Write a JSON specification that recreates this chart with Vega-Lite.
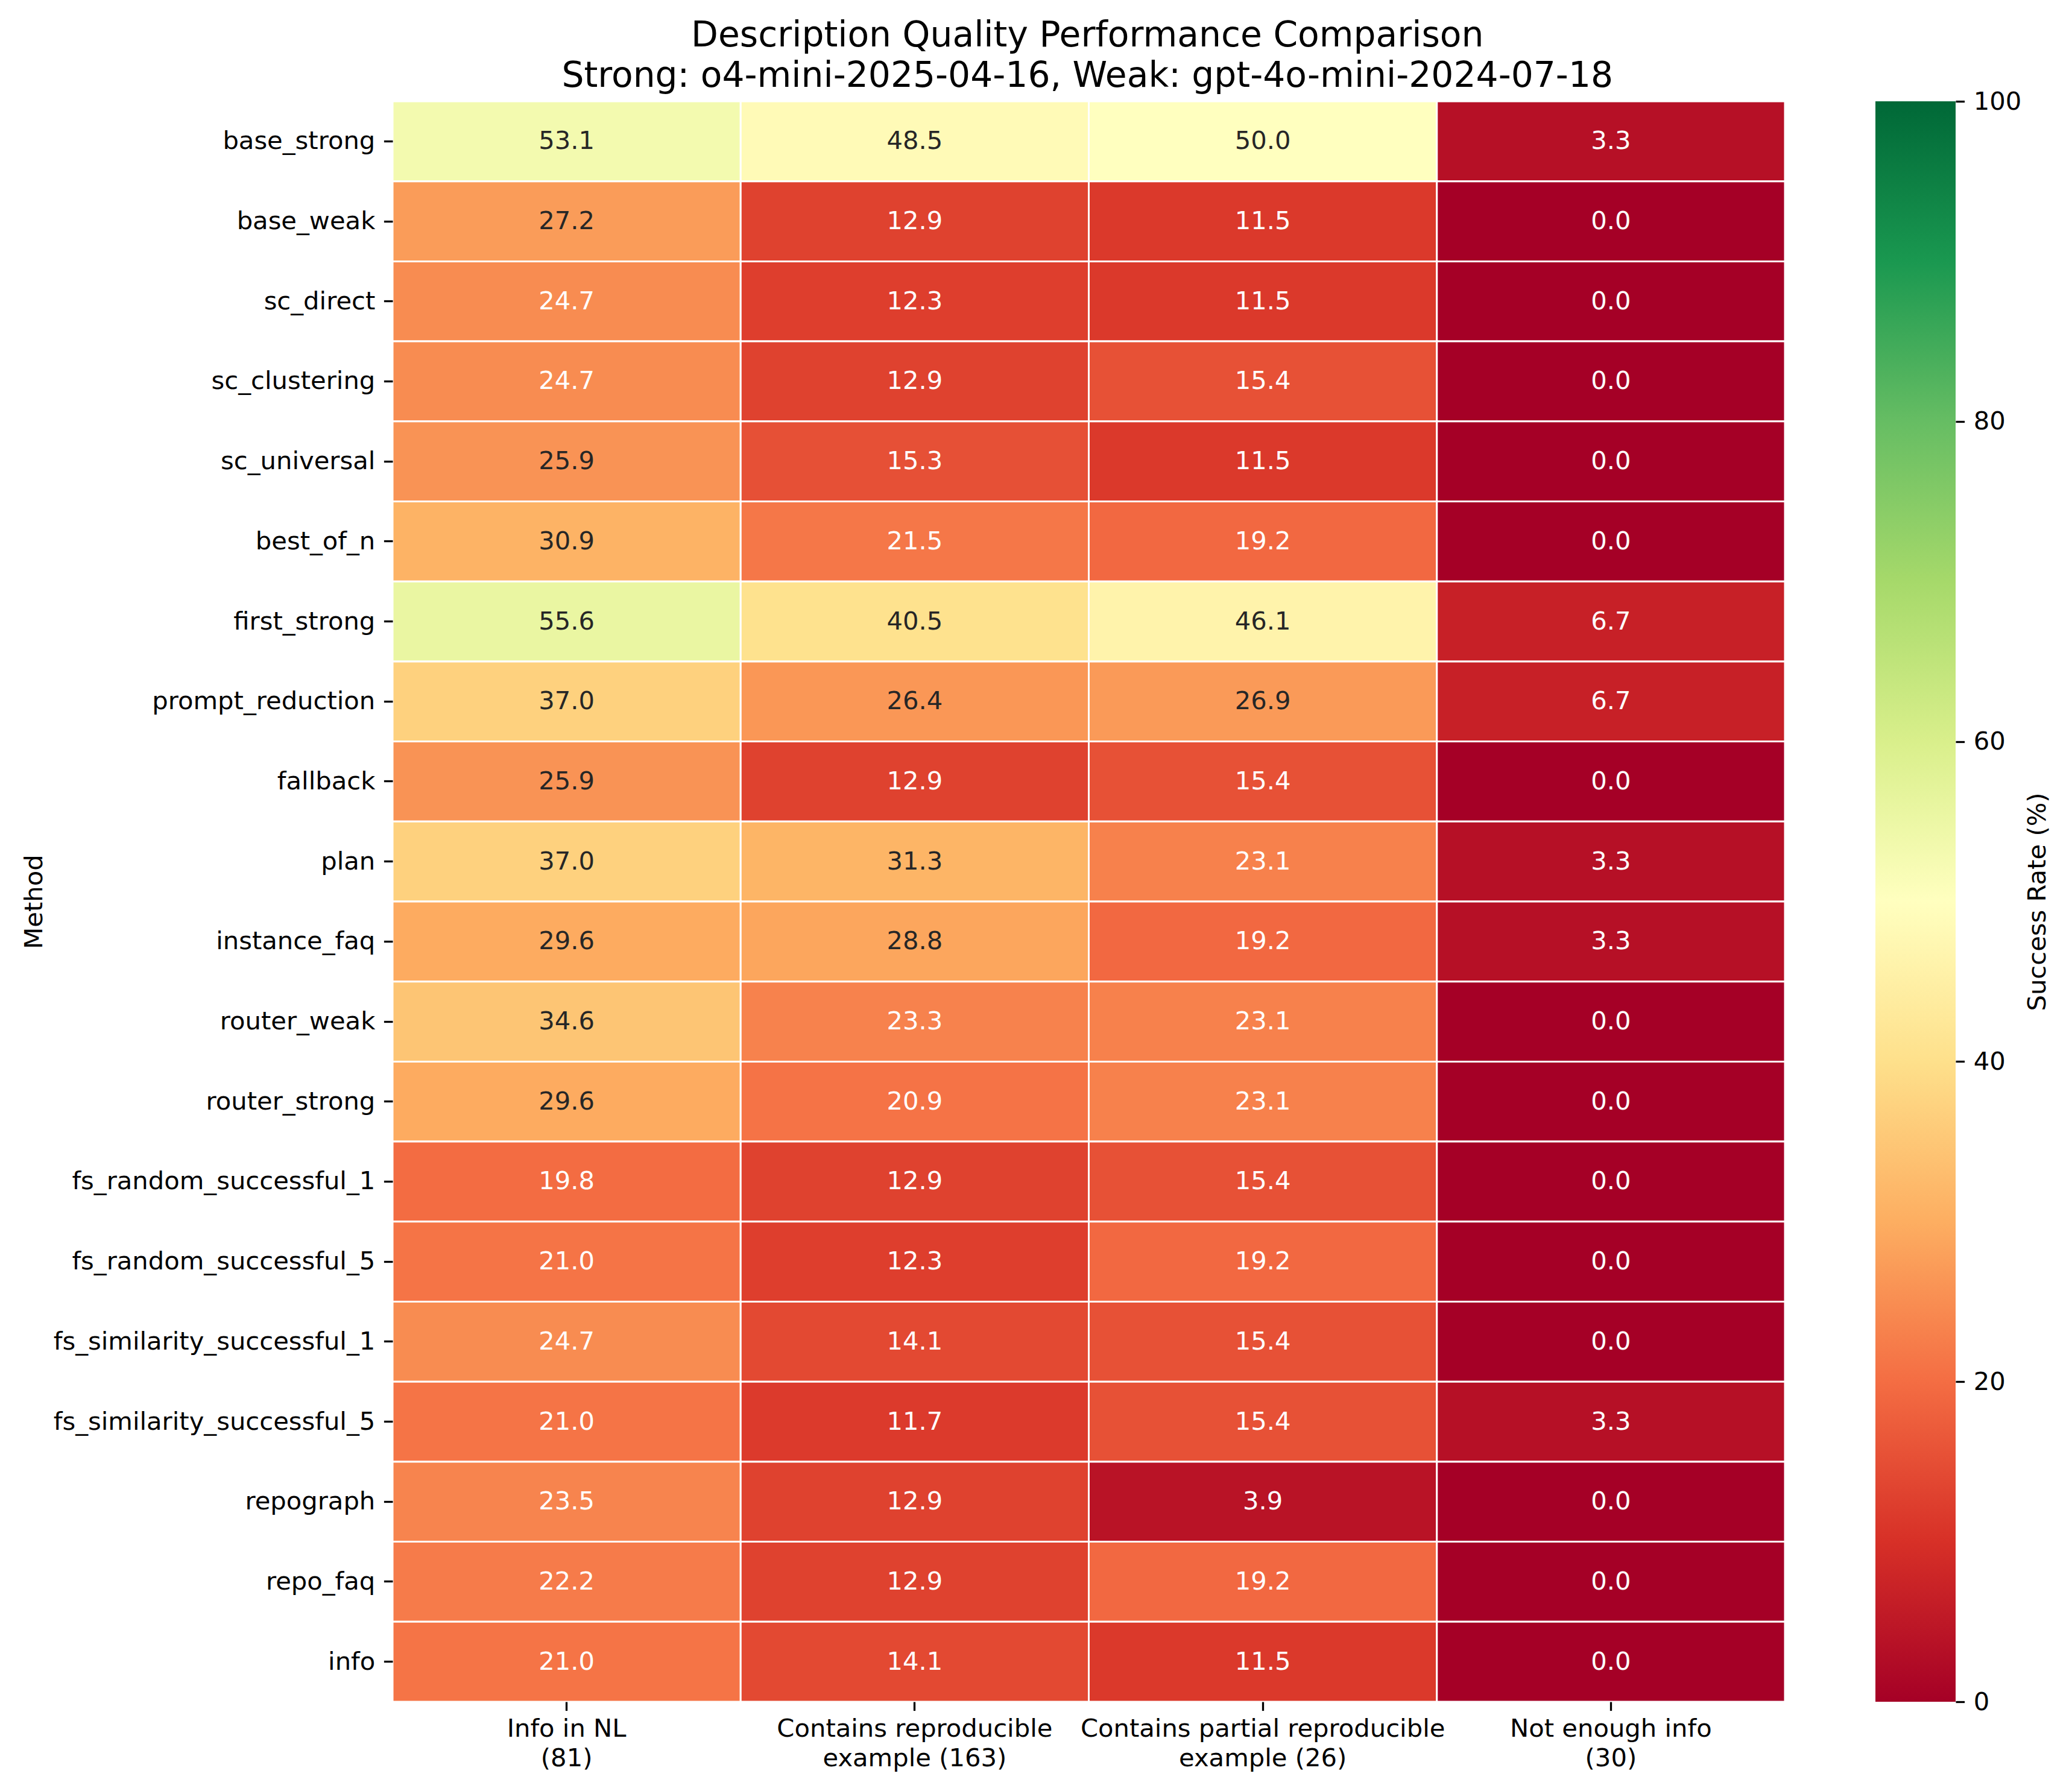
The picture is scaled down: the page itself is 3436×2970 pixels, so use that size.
{
  "$schema": "https://vega.github.io/schema/vega-lite/v6.json",
  "background": "white",
  "padding": {"left": 36, "top": 29, "right": 10, "bottom": 10},
  "config": {"font": "DejaVu Sans", "view": {"stroke": null}},
  "title": {
    "text": ["Description Quality Performance Comparison", "Strong: o4-mini-2025-04-16, Weak: gpt-4o-mini-2024-07-18"],
    "font": "DejaVu Sans", "fontSize": 58.3, "fontWeight": "normal", "color": "black",
    "lineHeight": 67, "anchor": "middle", "dx": 85, "offset": -8
  },
  "spacing": 148,
  "hconcat": [
    {
      "width": 2309,
      "height": 2654,
      "data": {"values": [
        {"method": "base_strong", "category": "Info in NL\n(81)", "rate": 53.1},
        {"method": "base_strong", "category": "Contains reproducible\nexample (163)", "rate": 48.5},
        {"method": "base_strong", "category": "Contains partial reproducible\nexample (26)", "rate": 50.0},
        {"method": "base_strong", "category": "Not enough info\n(30)", "rate": 3.3},
        {"method": "base_weak", "category": "Info in NL\n(81)", "rate": 27.2},
        {"method": "base_weak", "category": "Contains reproducible\nexample (163)", "rate": 12.9},
        {"method": "base_weak", "category": "Contains partial reproducible\nexample (26)", "rate": 11.5},
        {"method": "base_weak", "category": "Not enough info\n(30)", "rate": 0.0},
        {"method": "sc_direct", "category": "Info in NL\n(81)", "rate": 24.7},
        {"method": "sc_direct", "category": "Contains reproducible\nexample (163)", "rate": 12.3},
        {"method": "sc_direct", "category": "Contains partial reproducible\nexample (26)", "rate": 11.5},
        {"method": "sc_direct", "category": "Not enough info\n(30)", "rate": 0.0},
        {"method": "sc_clustering", "category": "Info in NL\n(81)", "rate": 24.7},
        {"method": "sc_clustering", "category": "Contains reproducible\nexample (163)", "rate": 12.9},
        {"method": "sc_clustering", "category": "Contains partial reproducible\nexample (26)", "rate": 15.4},
        {"method": "sc_clustering", "category": "Not enough info\n(30)", "rate": 0.0},
        {"method": "sc_universal", "category": "Info in NL\n(81)", "rate": 25.9},
        {"method": "sc_universal", "category": "Contains reproducible\nexample (163)", "rate": 15.3},
        {"method": "sc_universal", "category": "Contains partial reproducible\nexample (26)", "rate": 11.5},
        {"method": "sc_universal", "category": "Not enough info\n(30)", "rate": 0.0},
        {"method": "best_of_n", "category": "Info in NL\n(81)", "rate": 30.9},
        {"method": "best_of_n", "category": "Contains reproducible\nexample (163)", "rate": 21.5},
        {"method": "best_of_n", "category": "Contains partial reproducible\nexample (26)", "rate": 19.2},
        {"method": "best_of_n", "category": "Not enough info\n(30)", "rate": 0.0},
        {"method": "first_strong", "category": "Info in NL\n(81)", "rate": 55.6},
        {"method": "first_strong", "category": "Contains reproducible\nexample (163)", "rate": 40.5},
        {"method": "first_strong", "category": "Contains partial reproducible\nexample (26)", "rate": 46.1},
        {"method": "first_strong", "category": "Not enough info\n(30)", "rate": 6.7},
        {"method": "prompt_reduction", "category": "Info in NL\n(81)", "rate": 37.0},
        {"method": "prompt_reduction", "category": "Contains reproducible\nexample (163)", "rate": 26.4},
        {"method": "prompt_reduction", "category": "Contains partial reproducible\nexample (26)", "rate": 26.9},
        {"method": "prompt_reduction", "category": "Not enough info\n(30)", "rate": 6.7},
        {"method": "fallback", "category": "Info in NL\n(81)", "rate": 25.9},
        {"method": "fallback", "category": "Contains reproducible\nexample (163)", "rate": 12.9},
        {"method": "fallback", "category": "Contains partial reproducible\nexample (26)", "rate": 15.4},
        {"method": "fallback", "category": "Not enough info\n(30)", "rate": 0.0},
        {"method": "plan", "category": "Info in NL\n(81)", "rate": 37.0},
        {"method": "plan", "category": "Contains reproducible\nexample (163)", "rate": 31.3},
        {"method": "plan", "category": "Contains partial reproducible\nexample (26)", "rate": 23.1},
        {"method": "plan", "category": "Not enough info\n(30)", "rate": 3.3},
        {"method": "instance_faq", "category": "Info in NL\n(81)", "rate": 29.6},
        {"method": "instance_faq", "category": "Contains reproducible\nexample (163)", "rate": 28.8},
        {"method": "instance_faq", "category": "Contains partial reproducible\nexample (26)", "rate": 19.2},
        {"method": "instance_faq", "category": "Not enough info\n(30)", "rate": 3.3},
        {"method": "router_weak", "category": "Info in NL\n(81)", "rate": 34.6},
        {"method": "router_weak", "category": "Contains reproducible\nexample (163)", "rate": 23.3},
        {"method": "router_weak", "category": "Contains partial reproducible\nexample (26)", "rate": 23.1},
        {"method": "router_weak", "category": "Not enough info\n(30)", "rate": 0.0},
        {"method": "router_strong", "category": "Info in NL\n(81)", "rate": 29.6},
        {"method": "router_strong", "category": "Contains reproducible\nexample (163)", "rate": 20.9},
        {"method": "router_strong", "category": "Contains partial reproducible\nexample (26)", "rate": 23.1},
        {"method": "router_strong", "category": "Not enough info\n(30)", "rate": 0.0},
        {"method": "fs_random_successful_1", "category": "Info in NL\n(81)", "rate": 19.8},
        {"method": "fs_random_successful_1", "category": "Contains reproducible\nexample (163)", "rate": 12.9},
        {"method": "fs_random_successful_1", "category": "Contains partial reproducible\nexample (26)", "rate": 15.4},
        {"method": "fs_random_successful_1", "category": "Not enough info\n(30)", "rate": 0.0},
        {"method": "fs_random_successful_5", "category": "Info in NL\n(81)", "rate": 21.0},
        {"method": "fs_random_successful_5", "category": "Contains reproducible\nexample (163)", "rate": 12.3},
        {"method": "fs_random_successful_5", "category": "Contains partial reproducible\nexample (26)", "rate": 19.2},
        {"method": "fs_random_successful_5", "category": "Not enough info\n(30)", "rate": 0.0},
        {"method": "fs_similarity_successful_1", "category": "Info in NL\n(81)", "rate": 24.7},
        {"method": "fs_similarity_successful_1", "category": "Contains reproducible\nexample (163)", "rate": 14.1},
        {"method": "fs_similarity_successful_1", "category": "Contains partial reproducible\nexample (26)", "rate": 15.4},
        {"method": "fs_similarity_successful_1", "category": "Not enough info\n(30)", "rate": 0.0},
        {"method": "fs_similarity_successful_5", "category": "Info in NL\n(81)", "rate": 21.0},
        {"method": "fs_similarity_successful_5", "category": "Contains reproducible\nexample (163)", "rate": 11.7},
        {"method": "fs_similarity_successful_5", "category": "Contains partial reproducible\nexample (26)", "rate": 15.4},
        {"method": "fs_similarity_successful_5", "category": "Not enough info\n(30)", "rate": 3.3},
        {"method": "repograph", "category": "Info in NL\n(81)", "rate": 23.5},
        {"method": "repograph", "category": "Contains reproducible\nexample (163)", "rate": 12.9},
        {"method": "repograph", "category": "Contains partial reproducible\nexample (26)", "rate": 3.9},
        {"method": "repograph", "category": "Not enough info\n(30)", "rate": 0.0},
        {"method": "repo_faq", "category": "Info in NL\n(81)", "rate": 22.2},
        {"method": "repo_faq", "category": "Contains reproducible\nexample (163)", "rate": 12.9},
        {"method": "repo_faq", "category": "Contains partial reproducible\nexample (26)", "rate": 19.2},
        {"method": "repo_faq", "category": "Not enough info\n(30)", "rate": 0.0},
        {"method": "info", "category": "Info in NL\n(81)", "rate": 21.0},
        {"method": "info", "category": "Contains reproducible\nexample (163)", "rate": 14.1},
        {"method": "info", "category": "Contains partial reproducible\nexample (26)", "rate": 11.5},
        {"method": "info", "category": "Not enough info\n(30)", "rate": 0.0}
      ]},
      "encoding": {
        "x": {
          "field": "category", "type": "nominal",
          "sort": ["Info in NL\n(81)", "Contains reproducible\nexample (163)", "Contains partial reproducible\nexample (26)", "Not enough info\n(30)"],
          "scale": {"paddingInner": 0, "paddingOuter": 0},
          "axis": {
            "title": null, "orient": "bottom", "labelAngle": 0, "domain": false, "grid": false,
            "ticks": true, "tickSize": 14.6, "tickWidth": 3.3, "tickColor": "black",
            "labelFont": "DejaVu Sans", "labelFontSize": 41.7, "labelColor": "black",
            "labelPadding": 10, "labelLineHeight": 49, "labelLimit": 2000,
            "labelExpr": "split(datum.value, '\\n')"
          }
        },
        "y": {
          "field": "method", "type": "nominal",
          "sort": ["base_strong", "base_weak", "sc_direct", "sc_clustering", "sc_universal", "best_of_n", "first_strong", "prompt_reduction", "fallback", "plan", "instance_faq", "router_weak", "router_strong", "fs_random_successful_1", "fs_random_successful_5", "fs_similarity_successful_1", "fs_similarity_successful_5", "repograph", "repo_faq", "info"],
          "scale": {"paddingInner": 0, "paddingOuter": 0},
          "axis": {
            "title": "Method", "titleFont": "DejaVu Sans", "titleFontSize": 41.7, "titleFontWeight": "normal", "titleColor": "black",
            "titleX": -582, "titleY": 1327, "titleAngle": 270, "titleBaseline": "alphabetic", "titleAlign": "center",
            "domain": false, "grid": false,
            "ticks": true, "tickSize": 14.6, "tickWidth": 3.3, "tickColor": "black",
            "labelFont": "DejaVu Sans", "labelFontSize": 41.7, "labelColor": "black",
            "labelPadding": 14.6, "labelLimit": 2000
          }
        }
      },
      "layer": [
        {
          "mark": {"type": "rect", "stroke": "white", "strokeWidth": 3},
          "encoding": {
            "color": {
              "field": "rate", "type": "quantitative",
              "scale": {
                "domain": [0, 10, 20, 30, 40, 50, 60, 70, 80, 90, 100],
                "range": ["#a50026", "#d73027", "#f46d43", "#fdae61", "#fee08b", "#ffffbf", "#d9ef8b", "#a6d96a", "#66bd63", "#1a9850", "#006837"],
                "interpolate": "rgb"
              },
              "legend": null
            }
          }
        },
        {
          "mark": {"type": "text", "font": "DejaVu Sans", "fontSize": 41.7, "baseline": "middle", "align": "center"},
          "encoding": {
            "text": {"field": "rate", "type": "quantitative", "format": ".1f"},
            "color": {"condition": {"test": "datum.rate >= 25.3", "value": "#262626"}, "value": "white"}
          }
        }
      ]
    },
    {
      "width": 133,
      "height": 2654,
      "data": {"values": [{"lo": 0, "hi": 100}]},
      "mark": {
        "type": "rect",
        "color": {
          "gradient": "linear", "x1": 0, "y1": 1, "x2": 0, "y2": 0,
          "stops": [
            {"offset": 0.0, "color": "#a50026"},
            {"offset": 0.1, "color": "#d73027"},
            {"offset": 0.2, "color": "#f46d43"},
            {"offset": 0.3, "color": "#fdae61"},
            {"offset": 0.4, "color": "#fee08b"},
            {"offset": 0.5, "color": "#ffffbf"},
            {"offset": 0.6, "color": "#d9ef8b"},
            {"offset": 0.7, "color": "#a6d96a"},
            {"offset": 0.8, "color": "#66bd63"},
            {"offset": 0.9, "color": "#1a9850"},
            {"offset": 1.0, "color": "#006837"}
          ]
        }
      },
      "encoding": {
        "y": {
          "field": "lo", "type": "quantitative",
          "scale": {"domain": [0, 100], "nice": false, "zero": false},
          "axis": {
            "orient": "right", "title": "Success Rate (%)", "titleAngle": 270,
            "titleFont": "DejaVu Sans", "titleFontSize": 41.7, "titleFontWeight": "normal", "titleColor": "black", "titlePadding": 49,
            "values": [0, 20, 40, 60, 80, 100], "domain": false, "grid": false,
            "ticks": true, "tickSize": 14.6, "tickWidth": 3.3, "tickColor": "black",
            "labelFont": "DejaVu Sans", "labelFontSize": 41.7, "labelColor": "black", "labelPadding": 14.6
          }
        },
        "y2": {"field": "hi"}
      }
    }
  ]
}
